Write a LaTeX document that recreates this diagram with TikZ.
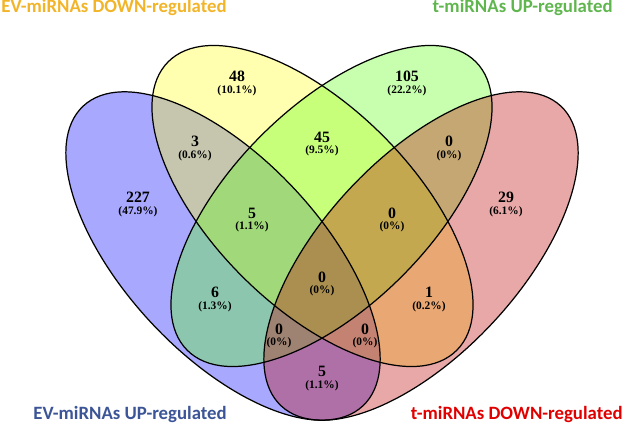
\documentclass[tikz,border=0pt]{standalone}
\usepackage{fontspec}
\setmainfont{Liberation Serif}
\newfontfamily\setlabelfont{Carlito}
\usetikzlibrary{positioning}

\definecolor{evupfill}{RGB}{0,0,255}
\definecolor{evdownfill}{RGB}{255,255,20}
\definecolor{tupfill}{RGB}{90,255,20}
\definecolor{tdownfill}{RGB}{190,0,0}
\definecolor{evuptext}{RGB}{60,85,150}
\definecolor{evdowntext}{RGB}{242,180,40}
\definecolor{tuptext}{RGB}{96,182,78}
\definecolor{tdowntext}{RGB}{225,0,0}

\newcommand{\vcount}[2]{\textbf{#1}\\[-2.4pt]{\fontsize{6.5}{7}\selectfont\textbf{(#2\%)}}}

\begin{document}
\begin{tikzpicture}[
    setfill/.style={fill opacity=0.34},
    setline/.style={draw=black, line width=0.7pt},
    count/.style={align=center, inner sep=0pt, font=\fontsize{9}{9}\selectfont},
    settitle/.style={inner sep=0pt, font=\setlabelfont\bfseries\fontsize{10.7}{12}\selectfont}
]
\useasboundingbox (0,0) rectangle (12.5,8.48);

% 椭圆中心
\coordinate (evup)   at (4.46,3.36);
\coordinate (evdown) at (6.25,4.36);
\coordinate (tup)    at (6.63,4.36);
\coordinate (tdown)  at (8.42,3.36);

% 先填充
\fill[setfill, evupfill,   rotate around={-47:(evup)}]   (evup)   ellipse (4.10 and 1.96);
\fill[setfill, evdownfill, rotate around={-45:(evdown)}] (evdown) ellipse (4.08 and 1.99);
\fill[setfill, tupfill,    rotate around={45:(tup)}]     (tup)    ellipse (4.08 and 1.99);
\fill[setfill, tdownfill,  rotate around={47:(tdown)}]   (tdown)  ellipse (4.10 and 1.96);

% 再描边
\draw[setline, rotate around={-47:(evup)}]   (evup)   ellipse (4.10 and 1.96);
\draw[setline, rotate around={-45:(evdown)}] (evdown) ellipse (4.08 and 1.99);
\draw[setline, rotate around={45:(tup)}]     (tup)    ellipse (4.08 and 1.99);
\draw[setline, rotate around={47:(tdown)}]   (tdown)  ellipse (4.10 and 1.96);

% 各区域计数
\node[count] (nA)    at (2.76,4.39)  {\vcount{227}{47.9}};
\node[count] (nB)    at (4.74,6.81)  {\vcount{48}{10.1}};
\node[count] (nC)    at (8.14,6.81)  {\vcount{105}{22.2}};
\node[count] (nD)    at (10.12,4.39) {\vcount{29}{6.1}};
\node[count] (nAB)   at (3.90,5.51)  {\vcount{3}{0.6}};
\node[count] (nBC)   at (6.44,5.60)  {\vcount{45}{9.5}};
\node[count] (nCD)   at (8.98,5.51)  {\vcount{0}{0}};
\node[count] (nABC)  at (5.04,4.08)  {\vcount{5}{1.1}};
\node[count] (nBCD)  at (7.84,4.08)  {\vcount{0}{0}};
\node[count] (nABCD) at (6.44,2.80)  {\vcount{0}{0}};
\node[count] (nAC)   at (4.30,2.49)  {\vcount{6}{1.3}};
\node[count] (nBD)   at (8.58,2.49)  {\vcount{1}{0.2}};
\node[count] (nACD)  at (5.58,1.76)  {\vcount{0}{0}};
\node[count] (nABD)  at (7.30,1.76)  {\vcount{0}{0}};
\node[count] (nAD)   at (6.44,0.91)  {\vcount{5}{1.1}};

% 集合名称
\node[settitle, text=evdowntext, anchor=base west] (tEVdown) at (0.02,8.22)  {EV-miRNAs DOWN-regulated};
\node[settitle, text=tuptext,    anchor=base east] (tTup)    at (12.26,8.22) {t-miRNAs UP-regulated};
\node[settitle, text=evuptext,   anchor=base west] (tEVup)   at (0.66,0.10)  {EV-miRNAs UP-regulated};
\node[settitle, text=tdowntext,  anchor=base east] (tTdown)  at (12.46,0.10) {t-miRNAs DOWN-regulated};

\end{tikzpicture}
\end{document}
